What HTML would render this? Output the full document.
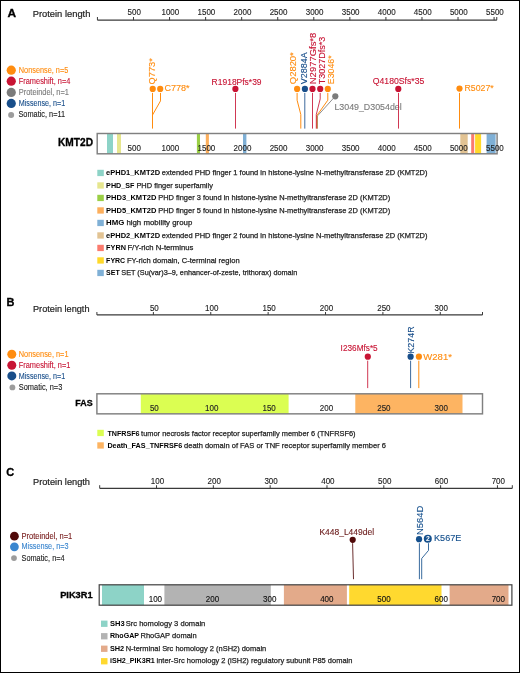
<!DOCTYPE html>
<html><head><meta charset="utf-8"><title>Lollipop plots</title>
<style>html,body{margin:0;padding:0;background:#fff;}svg{display:block;will-change:transform;}text{font-family:"Liberation Sans", sans-serif;}</style>
</head><body>
<svg width="520" height="673" viewBox="0 0 520 673" font-family='"Liberation Sans", sans-serif'>
<rect x="0" y="0" width="520" height="673" fill="#fff"/>
<text x="7.50" y="16.60" font-size="11" fill="#000" font-weight="bold" textLength="8.60" lengthAdjust="spacingAndGlyphs" stroke="#000" stroke-width="0.3">A</text>
<text x="32.70" y="16.70" font-size="9.6" fill="#222" textLength="57.70" lengthAdjust="spacingAndGlyphs" stroke="#222" stroke-width="0.2">Protein length</text>
<line x1="97.43" y1="20.15" x2="496.80" y2="20.15" stroke="#3A3A3A" stroke-width="1.3"/>
<line x1="97.43" y1="20.15" x2="97.43" y2="17.00" stroke="#3A3A3A" stroke-width="1"/>
<line x1="133.49" y1="20.15" x2="133.49" y2="17.00" stroke="#3A3A3A" stroke-width="1"/>
<line x1="169.55" y1="20.15" x2="169.55" y2="17.00" stroke="#3A3A3A" stroke-width="1"/>
<line x1="205.61" y1="20.15" x2="205.61" y2="17.00" stroke="#3A3A3A" stroke-width="1"/>
<line x1="241.67" y1="20.15" x2="241.67" y2="17.00" stroke="#3A3A3A" stroke-width="1"/>
<line x1="277.73" y1="20.15" x2="277.73" y2="17.00" stroke="#3A3A3A" stroke-width="1"/>
<line x1="313.79" y1="20.15" x2="313.79" y2="17.00" stroke="#3A3A3A" stroke-width="1"/>
<line x1="349.85" y1="20.15" x2="349.85" y2="17.00" stroke="#3A3A3A" stroke-width="1"/>
<line x1="385.91" y1="20.15" x2="385.91" y2="17.00" stroke="#3A3A3A" stroke-width="1"/>
<line x1="421.97" y1="20.15" x2="421.97" y2="17.00" stroke="#3A3A3A" stroke-width="1"/>
<line x1="458.03" y1="20.15" x2="458.03" y2="17.00" stroke="#3A3A3A" stroke-width="1"/>
<line x1="494.09" y1="20.15" x2="494.09" y2="17.00" stroke="#3A3A3A" stroke-width="1"/>
<line x1="496.76" y1="20.15" x2="496.76" y2="17.00" stroke="#3A3A3A" stroke-width="1"/>
<text x="134.29" y="15.20" font-size="8.5" fill="#222" text-anchor="middle" textLength="13.35" lengthAdjust="spacingAndGlyphs" stroke="#222" stroke-width="0.12">500</text>
<text x="170.35" y="15.20" font-size="8.5" fill="#222" text-anchor="middle" textLength="17.80" lengthAdjust="spacingAndGlyphs" stroke="#222" stroke-width="0.12">1000</text>
<text x="206.41" y="15.20" font-size="8.5" fill="#222" text-anchor="middle" textLength="17.80" lengthAdjust="spacingAndGlyphs" stroke="#222" stroke-width="0.12">1500</text>
<text x="242.47" y="15.20" font-size="8.5" fill="#222" text-anchor="middle" textLength="17.80" lengthAdjust="spacingAndGlyphs" stroke="#222" stroke-width="0.12">2000</text>
<text x="278.53" y="15.20" font-size="8.5" fill="#222" text-anchor="middle" textLength="17.80" lengthAdjust="spacingAndGlyphs" stroke="#222" stroke-width="0.12">2500</text>
<text x="314.59" y="15.20" font-size="8.5" fill="#222" text-anchor="middle" textLength="17.80" lengthAdjust="spacingAndGlyphs" stroke="#222" stroke-width="0.12">3000</text>
<text x="350.65" y="15.20" font-size="8.5" fill="#222" text-anchor="middle" textLength="17.80" lengthAdjust="spacingAndGlyphs" stroke="#222" stroke-width="0.12">3500</text>
<text x="386.71" y="15.20" font-size="8.5" fill="#222" text-anchor="middle" textLength="17.80" lengthAdjust="spacingAndGlyphs" stroke="#222" stroke-width="0.12">4000</text>
<text x="422.77" y="15.20" font-size="8.5" fill="#222" text-anchor="middle" textLength="17.80" lengthAdjust="spacingAndGlyphs" stroke="#222" stroke-width="0.12">4500</text>
<text x="458.83" y="15.20" font-size="8.5" fill="#222" text-anchor="middle" textLength="17.80" lengthAdjust="spacingAndGlyphs" stroke="#222" stroke-width="0.12">5000</text>
<text x="494.89" y="15.20" font-size="8.5" fill="#222" text-anchor="middle" textLength="17.80" lengthAdjust="spacingAndGlyphs" stroke="#222" stroke-width="0.12">5500</text>
<circle cx="11.25" cy="70.20" r="4.6" fill="#FF8C0F"/>
<text x="18.80" y="72.90" font-size="8.2" fill="#FF8C0F" textLength="49.50" lengthAdjust="spacingAndGlyphs" stroke="#FF8C0F" stroke-width="0.12">Nonsense, n=5</text>
<circle cx="11.25" cy="81.20" r="4.6" fill="#C81434"/>
<text x="18.80" y="83.90" font-size="8.2" fill="#C81434" textLength="51.50" lengthAdjust="spacingAndGlyphs" stroke="#C81434" stroke-width="0.12">Frameshift, n=4</text>
<circle cx="11.25" cy="92.40" r="4.6" fill="#7B7B7B"/>
<text x="18.80" y="95.10" font-size="8.2" fill="#7B7B7B" textLength="50.10" lengthAdjust="spacingAndGlyphs" stroke="#7B7B7B" stroke-width="0.12">Proteindel, n=1</text>
<circle cx="11.25" cy="103.40" r="4.6" fill="#184E8A"/>
<text x="18.80" y="106.10" font-size="8.2" fill="#184E8A" textLength="46.40" lengthAdjust="spacingAndGlyphs" stroke="#184E8A" stroke-width="0.12">Missense, n=1</text>
<circle cx="11.15" cy="114.90" r="3" fill="#9C9C9C"/>
<text x="18.40" y="117.40" font-size="8.2" fill="#222" textLength="46.80" lengthAdjust="spacingAndGlyphs" stroke="#222" stroke-width="0.12">Somatic, n=11</text>
<rect x="97.20" y="133.50" width="399.90" height="20.30" fill="#fff"/>
<rect x="107.00" y="133.50" width="6.00" height="20.30" fill="#8DD3C7"/>
<rect x="117.00" y="133.50" width="4.00" height="20.30" fill="#E6E68E"/>
<rect x="196.90" y="133.50" width="3.10" height="20.30" fill="#9ACF45"/>
<rect x="205.80" y="133.50" width="3.10" height="20.30" fill="#FDAF5C"/>
<rect x="243.00" y="133.50" width="3.40" height="20.30" fill="#7FB0D6"/>
<rect x="460.30" y="133.50" width="7.40" height="20.30" fill="#E2C393"/>
<rect x="471.20" y="133.50" width="3.00" height="20.30" fill="#FB7B6E"/>
<rect x="475.10" y="133.50" width="6.00" height="20.30" fill="#FFD92A"/>
<rect x="486.60" y="133.50" width="9.00" height="20.30" fill="#7FB0D6"/>
<rect x="97.20" y="133.50" width="399.90" height="20.30" fill="none" stroke="#808080" stroke-width="1.45"/>
<text x="134.29" y="151.20" font-size="8.5" fill="#222" text-anchor="middle" textLength="13.35" lengthAdjust="spacingAndGlyphs" stroke="#222" stroke-width="0.12">500</text>
<text x="170.35" y="151.20" font-size="8.5" fill="#222" text-anchor="middle" textLength="17.80" lengthAdjust="spacingAndGlyphs" stroke="#222" stroke-width="0.12">1000</text>
<text x="206.41" y="151.20" font-size="8.5" fill="#222" text-anchor="middle" textLength="17.80" lengthAdjust="spacingAndGlyphs" stroke="#222" stroke-width="0.12">1500</text>
<text x="242.47" y="151.20" font-size="8.5" fill="#222" text-anchor="middle" textLength="17.80" lengthAdjust="spacingAndGlyphs" stroke="#222" stroke-width="0.12">2000</text>
<text x="278.53" y="151.20" font-size="8.5" fill="#222" text-anchor="middle" textLength="17.80" lengthAdjust="spacingAndGlyphs" stroke="#222" stroke-width="0.12">2500</text>
<text x="314.59" y="151.20" font-size="8.5" fill="#222" text-anchor="middle" textLength="17.80" lengthAdjust="spacingAndGlyphs" stroke="#222" stroke-width="0.12">3000</text>
<text x="350.65" y="151.20" font-size="8.5" fill="#222" text-anchor="middle" textLength="17.80" lengthAdjust="spacingAndGlyphs" stroke="#222" stroke-width="0.12">3500</text>
<text x="386.71" y="151.20" font-size="8.5" fill="#222" text-anchor="middle" textLength="17.80" lengthAdjust="spacingAndGlyphs" stroke="#222" stroke-width="0.12">4000</text>
<text x="422.77" y="151.20" font-size="8.5" fill="#222" text-anchor="middle" textLength="17.80" lengthAdjust="spacingAndGlyphs" stroke="#222" stroke-width="0.12">4500</text>
<text x="458.83" y="151.20" font-size="8.5" fill="#222" text-anchor="middle" textLength="17.80" lengthAdjust="spacingAndGlyphs" stroke="#222" stroke-width="0.12">5000</text>
<text x="494.89" y="151.20" font-size="8.5" fill="#222" text-anchor="middle" textLength="17.80" lengthAdjust="spacingAndGlyphs" stroke="#222" stroke-width="0.12">5500</text>
<text x="58.00" y="146.40" font-size="10" fill="#000" font-weight="bold" textLength="35.00" lengthAdjust="spacingAndGlyphs" stroke="#000" stroke-width="0.3">KMT2D</text>
<path d="M152.5 92.9 V128.6" stroke="#FF8C0F" stroke-width="1.0" fill="none"/>
<path d="M160.5 92.9 V100.9 L152.5 115 " stroke="#FF8C0F" stroke-width="1.0" fill="none"/>
<circle cx="152.70" cy="88.90" r="3.1" fill="#FF8C0F"/>
<circle cx="160.20" cy="88.90" r="3.1" fill="#FF8C0F"/>
<text x="0" y="0" font-size="8.8" fill="#FF8C0F" transform="translate(155.00,84.40) rotate(-90)" textLength="26.20" lengthAdjust="spacingAndGlyphs" stroke="#FF8C0F" stroke-width="0.12">Q773*</text>
<text x="164.40" y="91.00" font-size="8.8" fill="#FF8C0F" textLength="25.20" lengthAdjust="spacingAndGlyphs" stroke="#FF8C0F" stroke-width="0.12">C778*</text>
<path d="M235.5 92.9 V128.6" stroke="#C81434" stroke-width="0.85" fill="none"/>
<circle cx="235.40" cy="88.90" r="3.1" fill="#C81434"/>
<text x="211.60" y="84.70" font-size="8.8" fill="#C81434" textLength="50.00" lengthAdjust="spacingAndGlyphs" stroke="#C81434" stroke-width="0.12">R1918Pfs*39</text>
<path d="M297.1 92.9 V100.2 L300.8 114.5 V128.6" stroke="#FF8C0F" stroke-width="1.0" fill="none"/>
<path d="M304.8 92.9 V128.6" stroke="#184E8A" stroke-width="0.85" fill="none"/>
<path d="M312.5 92.9 V128.6" stroke="#C81434" stroke-width="0.85" fill="none"/>
<path d="M335.2 96.3 L317.5 115.9 V128.6" stroke="#7B7B7B" stroke-width="0.85" fill="none"/>
<path d="M327.8 92.9 V100.2 L316.9 115.5 V128.6" stroke="#FF8C0F" stroke-width="1.0" fill="none"/>
<path d="M320.2 92.9 V98.9 L316.3 114.5 V128.6" stroke="#C81434" stroke-width="0.85" fill="none"/>
<circle cx="297.10" cy="88.90" r="3.1" fill="#FF8C0F"/>
<circle cx="304.90" cy="88.90" r="3.1" fill="#184E8A"/>
<circle cx="312.50" cy="88.90" r="3.1" fill="#C81434"/>
<circle cx="320.20" cy="88.90" r="3.1" fill="#C81434"/>
<circle cx="327.80" cy="88.90" r="3.1" fill="#FF8C0F"/>
<circle cx="335.30" cy="96.30" r="3.1" fill="#7B7B7B"/>
<text x="0" y="0" font-size="8.8" fill="#FF8C0F" transform="translate(295.90,84.20) rotate(-90)" textLength="32.00" lengthAdjust="spacingAndGlyphs" stroke="#FF8C0F" stroke-width="0.12">Q2820*</text>
<text x="0" y="0" font-size="8.8" fill="#184E8A" transform="translate(306.80,84.20) rotate(-90)" textLength="32.00" lengthAdjust="spacingAndGlyphs" stroke="#184E8A" stroke-width="0.12">V2884A</text>
<text x="0" y="0" font-size="8.8" fill="#C81434" transform="translate(315.90,84.20) rotate(-90)" textLength="51.50" lengthAdjust="spacingAndGlyphs" stroke="#C81434" stroke-width="0.12">N2977Gfs*8</text>
<text x="0" y="0" font-size="8.8" fill="#C81434" transform="translate(325.10,84.20) rotate(-90)" textLength="47.60" lengthAdjust="spacingAndGlyphs" stroke="#C81434" stroke-width="0.12">T3027Dfs*3</text>
<text x="0" y="0" font-size="8.8" fill="#FF8C0F" transform="translate(334.10,84.20) rotate(-90)" textLength="28.80" lengthAdjust="spacingAndGlyphs" stroke="#FF8C0F" stroke-width="0.12">E3046*</text>
<text x="334.40" y="109.80" font-size="8.8" fill="#7B7B7B" textLength="67.30" lengthAdjust="spacingAndGlyphs" stroke="#7B7B7B" stroke-width="0.12">L3049_D3054del</text>
<path d="M398.5 92.9 V128.6" stroke="#C81434" stroke-width="0.85" fill="none"/>
<circle cx="398.30" cy="88.90" r="3.1" fill="#C81434"/>
<text x="372.80" y="83.60" font-size="8.8" fill="#C81434" textLength="51.60" lengthAdjust="spacingAndGlyphs" stroke="#C81434" stroke-width="0.12">Q4180Sfs*35</text>
<path d="M459.5 92.9 V128.6" stroke="#FF8C0F" stroke-width="1.0" fill="none"/>
<circle cx="459.50" cy="88.60" r="3.1" fill="#FF8C0F"/>
<text x="464.50" y="91.10" font-size="8.8" fill="#FF8C0F" textLength="29.20" lengthAdjust="spacingAndGlyphs" stroke="#FF8C0F" stroke-width="0.12">R5027*</text>
<rect x="97.30" y="169.80" width="6.50" height="6.30" fill="#8DD3C7"/>
<text x="106.10" y="175.40" font-size="7.9" font-weight="bold" fill="#000" textLength="54.00" lengthAdjust="spacingAndGlyphs">ePHD1_KMT2D</text>
<text x="161.80" y="175.40" font-size="7.9" fill="#1e1e1e" stroke="#1e1e1e" stroke-width="0.25" textLength="265.70" lengthAdjust="spacingAndGlyphs">extended PHD finger 1 found in histone-lysine N-methyltransferase 2D (KMT2D)</text>
<rect x="97.30" y="182.30" width="6.50" height="6.30" fill="#E6E68E"/>
<text x="106.10" y="187.90" font-size="7.9" font-weight="bold" fill="#000" textLength="28.30" lengthAdjust="spacingAndGlyphs">PHD_SF</text>
<text x="136.40" y="187.90" font-size="7.9" fill="#1e1e1e" stroke="#1e1e1e" stroke-width="0.25" textLength="76.50" lengthAdjust="spacingAndGlyphs">PHD finger superfamily</text>
<rect x="97.30" y="194.80" width="6.50" height="6.30" fill="#9ACF45"/>
<text x="106.10" y="200.40" font-size="7.9" font-weight="bold" fill="#000" textLength="50.30" lengthAdjust="spacingAndGlyphs">PHD3_KMT2D</text>
<text x="158.20" y="200.40" font-size="7.9" fill="#1e1e1e" stroke="#1e1e1e" stroke-width="0.25" textLength="232.00" lengthAdjust="spacingAndGlyphs">PHD finger 3 found in histone-lysine N-methyltransferase 2D (KMT2D)</text>
<rect x="97.30" y="207.30" width="6.50" height="6.30" fill="#FDAF5C"/>
<text x="106.10" y="212.90" font-size="7.9" font-weight="bold" fill="#000" textLength="50.30" lengthAdjust="spacingAndGlyphs">PHD5_KMT2D</text>
<text x="158.20" y="212.90" font-size="7.9" fill="#1e1e1e" stroke="#1e1e1e" stroke-width="0.25" textLength="232.00" lengthAdjust="spacingAndGlyphs">PHD finger 5 found in histone-lysine N-methyltransferase 2D (KMT2D)</text>
<rect x="97.30" y="219.80" width="6.50" height="6.30" fill="#7FB0D6"/>
<text x="106.10" y="225.40" font-size="7.9" font-weight="bold" fill="#000" textLength="18.30" lengthAdjust="spacingAndGlyphs">HMG</text>
<text x="126.40" y="225.40" font-size="7.9" fill="#1e1e1e" stroke="#1e1e1e" stroke-width="0.25" textLength="65.90" lengthAdjust="spacingAndGlyphs">high mobility group</text>
<rect x="97.30" y="232.30" width="6.50" height="6.30" fill="#E2C393"/>
<text x="106.10" y="237.90" font-size="7.9" font-weight="bold" fill="#000" textLength="54.00" lengthAdjust="spacingAndGlyphs">ePHD2_KMT2D</text>
<text x="161.80" y="237.90" font-size="7.9" fill="#1e1e1e" stroke="#1e1e1e" stroke-width="0.25" textLength="265.70" lengthAdjust="spacingAndGlyphs">extended PHD finger 2 found in histone-lysine N-methyltransferase 2D (KMT2D)</text>
<rect x="97.30" y="244.80" width="6.50" height="6.30" fill="#FB7B6E"/>
<text x="106.10" y="250.40" font-size="7.9" font-weight="bold" fill="#000" textLength="19.80" lengthAdjust="spacingAndGlyphs">FYRN</text>
<text x="127.40" y="250.40" font-size="7.9" fill="#1e1e1e" stroke="#1e1e1e" stroke-width="0.25" textLength="66.00" lengthAdjust="spacingAndGlyphs">F/Y-rich N-terminus</text>
<rect x="97.30" y="257.30" width="6.50" height="6.30" fill="#FFD92A"/>
<text x="106.10" y="262.90" font-size="7.9" font-weight="bold" fill="#000" textLength="19.10" lengthAdjust="spacingAndGlyphs">FYRC</text>
<text x="127.00" y="262.90" font-size="7.9" fill="#1e1e1e" stroke="#1e1e1e" stroke-width="0.25" textLength="112.60" lengthAdjust="spacingAndGlyphs">FY-rich domain, C-terminal region</text>
<rect x="97.30" y="269.80" width="6.50" height="6.30" fill="#7FB0D6"/>
<text x="106.10" y="275.40" font-size="7.9" font-weight="bold" fill="#000" textLength="13.70" lengthAdjust="spacingAndGlyphs">SET</text>
<text x="121.30" y="275.40" font-size="7.9" fill="#1e1e1e" stroke="#1e1e1e" stroke-width="0.25" textLength="176.00" lengthAdjust="spacingAndGlyphs">SET (Su(var)3&#8211;9, enhancer-of-zeste, trithorax) domain</text>
<text x="6.40" y="306.20" font-size="11" fill="#000" font-weight="bold" stroke="#000" stroke-width="0.3">B</text>
<text x="33.00" y="312.20" font-size="9.6" fill="#222" textLength="56.50" lengthAdjust="spacingAndGlyphs" stroke="#222" stroke-width="0.2">Protein length</text>
<line x1="96.90" y1="314.95" x2="482.50" y2="314.95" stroke="#3A3A3A" stroke-width="1.3"/>
<line x1="96.90" y1="314.95" x2="96.90" y2="312.00" stroke="#3A3A3A" stroke-width="1"/>
<line x1="153.38" y1="314.95" x2="153.38" y2="312.00" stroke="#3A3A3A" stroke-width="1"/>
<line x1="210.76" y1="314.95" x2="210.76" y2="312.00" stroke="#3A3A3A" stroke-width="1"/>
<line x1="268.14" y1="314.95" x2="268.14" y2="312.00" stroke="#3A3A3A" stroke-width="1"/>
<line x1="325.52" y1="314.95" x2="325.52" y2="312.00" stroke="#3A3A3A" stroke-width="1"/>
<line x1="382.90" y1="314.95" x2="382.90" y2="312.00" stroke="#3A3A3A" stroke-width="1"/>
<line x1="440.28" y1="314.95" x2="440.28" y2="312.00" stroke="#3A3A3A" stroke-width="1"/>
<line x1="482.50" y1="314.95" x2="482.50" y2="312.00" stroke="#3A3A3A" stroke-width="1"/>
<text x="154.38" y="311.00" font-size="8.5" fill="#222" text-anchor="middle" textLength="8.90" lengthAdjust="spacingAndGlyphs" stroke="#222" stroke-width="0.12">50</text>
<text x="211.76" y="311.00" font-size="8.5" fill="#222" text-anchor="middle" textLength="13.35" lengthAdjust="spacingAndGlyphs" stroke="#222" stroke-width="0.12">100</text>
<text x="269.14" y="311.00" font-size="8.5" fill="#222" text-anchor="middle" textLength="13.35" lengthAdjust="spacingAndGlyphs" stroke="#222" stroke-width="0.12">150</text>
<text x="326.52" y="311.00" font-size="8.5" fill="#222" text-anchor="middle" textLength="13.35" lengthAdjust="spacingAndGlyphs" stroke="#222" stroke-width="0.12">200</text>
<text x="383.90" y="311.00" font-size="8.5" fill="#222" text-anchor="middle" textLength="13.35" lengthAdjust="spacingAndGlyphs" stroke="#222" stroke-width="0.12">250</text>
<text x="441.28" y="311.00" font-size="8.5" fill="#222" text-anchor="middle" textLength="13.35" lengthAdjust="spacingAndGlyphs" stroke="#222" stroke-width="0.12">300</text>
<circle cx="11.80" cy="354.20" r="4.5" fill="#FF8C0F"/>
<text x="18.80" y="356.90" font-size="8.2" fill="#FF8C0F" textLength="49.70" lengthAdjust="spacingAndGlyphs" stroke="#FF8C0F" stroke-width="0.12">Nonsense, n=1</text>
<circle cx="11.80" cy="365.20" r="4.5" fill="#C81434"/>
<text x="18.80" y="367.90" font-size="8.2" fill="#C81434" textLength="51.50" lengthAdjust="spacingAndGlyphs" stroke="#C81434" stroke-width="0.12">Frameshift, n=1</text>
<circle cx="11.80" cy="375.90" r="4.5" fill="#184E8A"/>
<text x="18.80" y="378.60" font-size="8.2" fill="#184E8A" textLength="46.40" lengthAdjust="spacingAndGlyphs" stroke="#184E8A" stroke-width="0.12">Missense, n=1</text>
<circle cx="12.40" cy="387.40" r="2.9" fill="#9C9C9C"/>
<text x="18.80" y="390.10" font-size="8.2" fill="#222" textLength="43.50" lengthAdjust="spacingAndGlyphs" stroke="#222" stroke-width="0.12">Somatic, n=3</text>
<rect x="96.90" y="393.80" width="385.60" height="20.05" fill="#fff"/>
<rect x="140.80" y="393.80" width="147.80" height="20.05" fill="#DBFE52"/>
<rect x="355.30" y="393.80" width="107.20" height="20.05" fill="#FDB462"/>
<rect x="96.90" y="393.80" width="385.60" height="20.05" fill="none" stroke="#808080" stroke-width="1.45"/>
<text x="154.38" y="411.20" font-size="8.5" fill="#222" text-anchor="middle" textLength="8.90" lengthAdjust="spacingAndGlyphs" stroke="#222" stroke-width="0.12">50</text>
<text x="211.76" y="411.20" font-size="8.5" fill="#222" text-anchor="middle" textLength="13.35" lengthAdjust="spacingAndGlyphs" stroke="#222" stroke-width="0.12">100</text>
<text x="269.14" y="411.20" font-size="8.5" fill="#222" text-anchor="middle" textLength="13.35" lengthAdjust="spacingAndGlyphs" stroke="#222" stroke-width="0.12">150</text>
<text x="326.52" y="411.20" font-size="8.5" fill="#222" text-anchor="middle" textLength="13.35" lengthAdjust="spacingAndGlyphs" stroke="#222" stroke-width="0.12">200</text>
<text x="383.90" y="411.20" font-size="8.5" fill="#222" text-anchor="middle" textLength="13.35" lengthAdjust="spacingAndGlyphs" stroke="#222" stroke-width="0.12">250</text>
<text x="441.28" y="411.20" font-size="8.5" fill="#222" text-anchor="middle" textLength="13.35" lengthAdjust="spacingAndGlyphs" stroke="#222" stroke-width="0.12">300</text>
<text x="75.30" y="406.40" font-size="9.4" fill="#000" font-weight="bold" textLength="17.30" lengthAdjust="spacingAndGlyphs" stroke="#000" stroke-width="0.3">FAS</text>
<path d="M367.7 360.7 V388.1" stroke="#C81434" stroke-width="0.85" fill="none"/>
<circle cx="367.80" cy="356.70" r="3.1" fill="#C81434"/>
<text x="340.60" y="351.20" font-size="8.8" fill="#C81434" textLength="37.10" lengthAdjust="spacingAndGlyphs" stroke="#C81434" stroke-width="0.12">I236Mfs*5</text>
<path d="M410.6 360.7 V388.1" stroke="#184E8A" stroke-width="0.85" fill="none"/>
<circle cx="410.60" cy="356.70" r="3.1" fill="#184E8A"/>
<text x="0" y="0" font-size="8.8" fill="#184E8A" transform="translate(413.90,353.60) rotate(-90)" textLength="27.20" lengthAdjust="spacingAndGlyphs" stroke="#184E8A" stroke-width="0.12">K274R</text>
<path d="M418.8 360.7 V388.1" stroke="#FF8C0F" stroke-width="1.0" fill="none"/>
<circle cx="418.90" cy="356.70" r="3.1" fill="#FF8C0F"/>
<text x="423.30" y="359.50" font-size="8.8" fill="#FF8C0F" textLength="28.60" lengthAdjust="spacingAndGlyphs" stroke="#FF8C0F" stroke-width="0.12">W281*</text>
<rect x="97.30" y="429.80" width="6.50" height="6.30" fill="#DBFE52"/>
<text x="107.40" y="435.60" font-size="7.9" font-weight="bold" fill="#000" textLength="32.20" lengthAdjust="spacingAndGlyphs">TNFRSF6</text>
<text x="141.10" y="435.60" font-size="7.9" fill="#1e1e1e" stroke="#1e1e1e" stroke-width="0.25" textLength="214.50" lengthAdjust="spacingAndGlyphs">tumor necrosis factor receptor superfamily member 6 (TNFRSF6)</text>
<rect x="97.30" y="442.30" width="6.50" height="6.30" fill="#FDB462"/>
<text x="107.40" y="448.10" font-size="7.9" font-weight="bold" fill="#000" textLength="74.90" lengthAdjust="spacingAndGlyphs">Death_FAS_TNFRSF6</text>
<text x="184.00" y="448.10" font-size="7.9" fill="#1e1e1e" stroke="#1e1e1e" stroke-width="0.25" textLength="202.00" lengthAdjust="spacingAndGlyphs">death domain of FAS or TNF receptor superfamily member 6</text>
<text x="6.30" y="476.20" font-size="11" fill="#000" font-weight="bold" stroke="#000" stroke-width="0.3">C</text>
<text x="33.00" y="485.40" font-size="9.6" fill="#222" textLength="57.00" lengthAdjust="spacingAndGlyphs" stroke="#222" stroke-width="0.2">Protein length</text>
<line x1="99.70" y1="488.35" x2="512.30" y2="488.35" stroke="#3A3A3A" stroke-width="1.3"/>
<line x1="99.70" y1="488.35" x2="99.70" y2="485.20" stroke="#3A3A3A" stroke-width="1"/>
<line x1="156.52" y1="488.35" x2="156.52" y2="485.20" stroke="#3A3A3A" stroke-width="1"/>
<line x1="213.34" y1="488.35" x2="213.34" y2="485.20" stroke="#3A3A3A" stroke-width="1"/>
<line x1="270.16" y1="488.35" x2="270.16" y2="485.20" stroke="#3A3A3A" stroke-width="1"/>
<line x1="326.98" y1="488.35" x2="326.98" y2="485.20" stroke="#3A3A3A" stroke-width="1"/>
<line x1="383.80" y1="488.35" x2="383.80" y2="485.20" stroke="#3A3A3A" stroke-width="1"/>
<line x1="440.62" y1="488.35" x2="440.62" y2="485.20" stroke="#3A3A3A" stroke-width="1"/>
<line x1="497.44" y1="488.35" x2="497.44" y2="485.20" stroke="#3A3A3A" stroke-width="1"/>
<line x1="512.30" y1="488.35" x2="512.30" y2="485.20" stroke="#3A3A3A" stroke-width="1"/>
<text x="157.42" y="483.50" font-size="8.5" fill="#222" text-anchor="middle" textLength="13.35" lengthAdjust="spacingAndGlyphs" stroke="#222" stroke-width="0.12">100</text>
<text x="214.24" y="483.50" font-size="8.5" fill="#222" text-anchor="middle" textLength="13.35" lengthAdjust="spacingAndGlyphs" stroke="#222" stroke-width="0.12">200</text>
<text x="271.06" y="483.50" font-size="8.5" fill="#222" text-anchor="middle" textLength="13.35" lengthAdjust="spacingAndGlyphs" stroke="#222" stroke-width="0.12">300</text>
<text x="327.88" y="483.50" font-size="8.5" fill="#222" text-anchor="middle" textLength="13.35" lengthAdjust="spacingAndGlyphs" stroke="#222" stroke-width="0.12">400</text>
<text x="384.70" y="483.50" font-size="8.5" fill="#222" text-anchor="middle" textLength="13.35" lengthAdjust="spacingAndGlyphs" stroke="#222" stroke-width="0.12">500</text>
<text x="441.52" y="483.50" font-size="8.5" fill="#222" text-anchor="middle" textLength="13.35" lengthAdjust="spacingAndGlyphs" stroke="#222" stroke-width="0.12">600</text>
<text x="498.34" y="483.50" font-size="8.5" fill="#222" text-anchor="middle" textLength="13.35" lengthAdjust="spacingAndGlyphs" stroke="#222" stroke-width="0.12">700</text>
<circle cx="14.40" cy="536.20" r="4.4" fill="#500A0A"/>
<text x="21.50" y="538.60" font-size="8.2" fill="#7A2020" textLength="50.80" lengthAdjust="spacingAndGlyphs" stroke="#7A2020" stroke-width="0.12">Proteindel, n=1</text>
<circle cx="14.40" cy="546.80" r="4.4" fill="#3A86CF"/>
<text x="21.50" y="549.20" font-size="8.2" fill="#3A86CF" textLength="47.00" lengthAdjust="spacingAndGlyphs" stroke="#3A86CF" stroke-width="0.12">Missense, n=3</text>
<circle cx="14.00" cy="558.10" r="2.9" fill="#9C9C9C"/>
<text x="21.50" y="560.70" font-size="8.2" fill="#222" textLength="43.10" lengthAdjust="spacingAndGlyphs" stroke="#222" stroke-width="0.12">Somatic, n=4</text>
<rect x="99.20" y="584.80" width="412.70" height="20.40" fill="#fff"/>
<rect x="102.00" y="584.80" width="42.00" height="20.40" fill="#8DD3C7"/>
<rect x="164.40" y="584.80" width="106.40" height="20.40" fill="#B3B3B3"/>
<rect x="283.90" y="584.80" width="63.00" height="20.40" fill="#E3AA8A"/>
<rect x="349.20" y="584.80" width="92.30" height="20.40" fill="#FFD92F"/>
<rect x="449.60" y="584.80" width="58.90" height="20.40" fill="#E3AA8A"/>
<rect x="99.20" y="584.80" width="412.70" height="20.40" fill="none" stroke="#404040" stroke-width="1.2"/>
<text x="155.38" y="602.10" font-size="8.5" fill="#111" text-anchor="middle" textLength="13.35" lengthAdjust="spacingAndGlyphs" stroke="#111" stroke-width="0.12">100</text>
<text x="212.54" y="602.10" font-size="8.5" fill="#111" text-anchor="middle" textLength="13.35" lengthAdjust="spacingAndGlyphs" stroke="#111" stroke-width="0.12">200</text>
<text x="269.70" y="602.10" font-size="8.5" fill="#111" text-anchor="middle" textLength="13.35" lengthAdjust="spacingAndGlyphs" stroke="#111" stroke-width="0.12">300</text>
<text x="326.86" y="602.10" font-size="8.5" fill="#111" text-anchor="middle" textLength="13.35" lengthAdjust="spacingAndGlyphs" stroke="#111" stroke-width="0.12">400</text>
<text x="384.02" y="602.10" font-size="8.5" fill="#111" text-anchor="middle" textLength="13.35" lengthAdjust="spacingAndGlyphs" stroke="#111" stroke-width="0.12">500</text>
<text x="441.18" y="602.10" font-size="8.5" fill="#111" text-anchor="middle" textLength="13.35" lengthAdjust="spacingAndGlyphs" stroke="#111" stroke-width="0.12">600</text>
<text x="498.34" y="602.10" font-size="8.5" fill="#111" text-anchor="middle" textLength="13.35" lengthAdjust="spacingAndGlyphs" stroke="#111" stroke-width="0.12">700</text>
<text x="60.20" y="597.70" font-size="9.4" fill="#000" font-weight="bold" textLength="32.40" lengthAdjust="spacingAndGlyphs" stroke="#000" stroke-width="0.3">PIK3R1</text>
<path d="M352.6 543.2 L353.5 579.2" stroke="#500A0A" stroke-width="0.85" fill="none"/>
<circle cx="352.70" cy="539.80" r="3.1" fill="#500A0A"/>
<text x="319.40" y="534.60" font-size="8.8" fill="#6A1A1A" textLength="54.70" lengthAdjust="spacingAndGlyphs" stroke="#6A1A1A" stroke-width="0.12">K448_L449del</text>
<path d="M419.4 543.2 V579.2" stroke="#15508D" stroke-width="0.85" fill="none"/>
<path d="M428.5 543.2 V550.4 L421.7 558.5 V579.2" stroke="#15508D" stroke-width="0.85" fill="none"/>
<circle cx="419.05" cy="539.20" r="3.1" fill="#15508D"/>
<circle cx="427.80" cy="538.70" r="4.0" fill="#15508D"/>
<text x="427.90" y="541.40" font-size="6.8" fill="#fff" font-weight="bold" text-anchor="middle">2</text>
<text x="0" y="0" font-size="8.8" fill="#15508D" transform="translate(422.90,535.00) rotate(-90)" textLength="29.40" lengthAdjust="spacingAndGlyphs" stroke="#15508D" stroke-width="0.12">N564D</text>
<text x="434.00" y="541.00" font-size="8.8" fill="#15508D" textLength="27.40" lengthAdjust="spacingAndGlyphs" stroke="#15508D" stroke-width="0.12">K567E</text>
<rect x="101.00" y="620.60" width="6.50" height="6.30" fill="#8DD3C7"/>
<text x="109.90" y="625.80" font-size="7.9" font-weight="bold" fill="#000" textLength="14.70" lengthAdjust="spacingAndGlyphs">SH3</text>
<text x="125.70" y="625.80" font-size="7.9" fill="#1e1e1e" stroke="#1e1e1e" stroke-width="0.25" textLength="79.60" lengthAdjust="spacingAndGlyphs">Src homology 3 domain</text>
<rect x="101.00" y="633.10" width="6.50" height="6.30" fill="#B3B3B3"/>
<text x="109.90" y="638.30" font-size="7.9" font-weight="bold" fill="#000" textLength="29.10" lengthAdjust="spacingAndGlyphs">RhoGAP</text>
<text x="140.50" y="638.30" font-size="7.9" fill="#1e1e1e" stroke="#1e1e1e" stroke-width="0.25" textLength="56.20" lengthAdjust="spacingAndGlyphs">RhoGAP domain</text>
<rect x="101.00" y="645.60" width="6.50" height="6.30" fill="#E3AA8A"/>
<text x="109.90" y="650.80" font-size="7.9" font-weight="bold" fill="#000" textLength="14.30" lengthAdjust="spacingAndGlyphs">SH2</text>
<text x="125.70" y="650.80" font-size="7.9" fill="#1e1e1e" stroke="#1e1e1e" stroke-width="0.25" textLength="140.50" lengthAdjust="spacingAndGlyphs">N-terminal Src homology 2 (nSH2) domain</text>
<rect x="101.00" y="658.10" width="6.50" height="6.30" fill="#FFD92F"/>
<text x="109.90" y="663.30" font-size="7.9" font-weight="bold" fill="#000" textLength="44.90" lengthAdjust="spacingAndGlyphs">iSH2_PIK3R1</text>
<text x="156.50" y="663.30" font-size="7.9" fill="#1e1e1e" stroke="#1e1e1e" stroke-width="0.25" textLength="195.90" lengthAdjust="spacingAndGlyphs">inter-Src homology 2 (iSH2) regulatory subunit P85 domain</text>
<rect x="0.5" y="0.5" width="519" height="672" fill="none" stroke="#000" stroke-width="1"/>
</svg>
</body></html>
